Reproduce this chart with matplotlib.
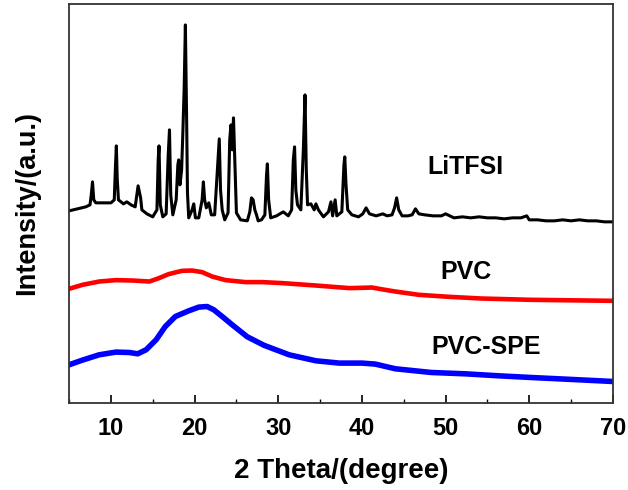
import matplotlib
matplotlib.use('Agg')
import matplotlib.pyplot as plt
from matplotlib.ticker import MultipleLocator

plt.rcParams['font.family'] = ['Liberation Sans', 'DejaVu Sans']

# === Daten (Intensitaet in willk. Einheiten) ===
litfsi_2theta = [5.0, 6.0, 7.0, 7.5, 7.65, 7.8, 7.95, 8.2, 9.0, 10.0, 10.4, 10.55, 10.65, 10.75, 10.9,
                 11.5, 11.9, 12.4, 12.9, 13.1, 13.25, 13.4, 13.55, 13.7, 14.3, 15.0, 15.5, 15.65, 15.75,
                 15.9, 16.2, 16.6, 16.85, 17.0, 17.15, 17.4, 17.8, 18.0, 18.1, 18.25, 18.45, 18.6, 18.75,
                 18.9, 19.05, 19.15, 19.3, 19.7, 19.9, 20.1, 20.5, 20.9, 21.05, 21.2, 21.4, 21.7, 22.0,
                 22.4, 22.8, 22.95, 23.1, 23.3, 23.6, 24.0, 24.2, 24.35, 24.5, 24.65, 24.8, 25.0, 25.5,
                 26.3, 26.6, 26.8, 27.0, 27.2, 27.4, 27.6, 28.0, 28.4, 28.6, 28.7, 28.85, 29.1, 29.8,
                 30.6, 31.2, 31.6, 31.8, 31.95, 32.1, 32.3, 32.7, 33.0, 33.2, 33.35, 33.5, 33.9, 34.3,
                 34.5, 34.8, 35.4, 36.0, 36.3, 36.5, 36.8, 37.0, 37.6, 37.85, 37.95, 38.1, 38.3, 38.8,
                 39.6, 40.1, 40.5, 40.9, 41.7, 42.5, 43.0, 43.6, 43.9, 44.15, 44.4, 44.8, 45.5, 46.0,
                 46.4, 46.8, 47.5, 48.5, 49.5, 50.0, 51.0, 52.0, 53.0, 54.0, 55.0, 56.0, 57.0, 58.0,
                 59.0, 59.7, 60.0, 61.0, 62.0, 63.0, 64.0, 65.0, 66.0, 67.0, 68.0, 69.0, 70.0]
litfsi_int = [1920, 1940, 1960, 1980, 2080, 2210, 2030, 2000, 2000, 2000, 2030, 2380, 2570, 2250, 2030,
              1990, 2010, 1980, 1960, 2080, 2170, 2110, 2050, 1930, 1890, 1860, 1930, 2430, 2570,
              1980, 1860, 1890, 2480, 2730, 2080, 1880, 2030, 2380, 2430, 2180, 2330, 2710, 3130,
              3780, 2830, 2100, 1850, 1930, 1990, 1850, 1850, 2030, 2210, 2030, 1950, 2000, 1880,
              1880, 2430, 2640, 2130, 1930, 1830, 1900, 2630, 2780, 2530, 2850, 2430, 1900, 1830,
              1820, 1910, 2050, 2030, 1930, 1880, 1820, 1830, 1880, 2280, 2390, 2030, 1850, 1870,
              1910, 1870, 1930, 2430, 2560, 2130, 1980, 1930, 2530, 3080, 2330, 1980, 1990, 1930,
              1990, 1930, 1860, 1910, 2010, 1870, 2030, 1870, 1910, 2380, 2460, 2180, 1930, 1880,
              1860, 1890, 1950, 1890, 1870, 1890, 1870, 1880, 1950, 2050, 1930, 1870, 1870, 1880,
              1940, 1890, 1880, 1870, 1870, 1890, 1850, 1860, 1850, 1860, 1850, 1850, 1840, 1850,
              1850, 1870, 1830, 1830, 1820, 1820, 1830, 1820, 1830, 1820, 1820, 1810, 1810]

pvc_2theta = [5.0, 6.6, 8.6, 10.6, 12.6, 14.6, 15.75, 16.9, 18.5, 19.7, 20.9, 22.1, 23.7, 26.1,
              28.1, 30.5, 34.5, 38.5, 40.0, 41.2, 42.4, 44.0, 46.8, 50.4, 54.3, 60.2, 65.0, 70.0]
pvc_int = [1140, 1180, 1213, 1227, 1223, 1213, 1247, 1287, 1320, 1323, 1307, 1263, 1227, 1207,
           1207, 1197, 1173, 1147, 1150, 1153, 1135, 1113, 1080, 1060, 1043, 1030, 1025, 1020]

spe_2theta = [5.0, 6.6, 8.6, 10.6, 12.2, 13.2, 14.2, 15.4, 16.5, 17.7, 19.3, 20.5, 21.5, 22.3,
              23.3, 24.5, 26.3, 28.3, 31.3, 34.5, 37.3, 40.0, 41.6, 44.0, 48.3, 52.3, 56.3, 60.2,
              64.2, 70.0]
spe_int = [380, 427, 480, 507, 503, 490, 530, 630, 763, 863, 920, 957, 963, 930,
           863, 780, 660, 575, 480, 420, 397, 397, 387, 340, 303, 290, 270, 253,
           237, 213]
# ======================

fig = plt.figure(figsize=(6.28, 4.90), dpi=100)
ax = fig.add_axes([0.110, 0.178, 0.866, 0.814])

ax.plot(litfsi_2theta, litfsi_int, color='black', lw=2.2)
ax.plot(pvc_2theta, pvc_int, color='red', lw=3.3)
ax.plot(spe_2theta, spe_int, color='blue', lw=4.0)

ax.text(52.4, 2360, 'LiTFSI', fontsize=18, fontweight='bold', ha='center', va='center')
ax.text(52.4, 1310, 'PVC', fontsize=18, fontweight='bold', ha='center', va='center')
ax.text(54.9, 560, 'PVC-SPE', fontsize=18, fontweight='bold', ha='center', va='center')

ax.set_xlim(5, 70)
ax.set_ylim(0, 3990)
ax.xaxis.set_major_locator(MultipleLocator(10))
ax.xaxis.set_minor_locator(MultipleLocator(5))
ax.tick_params(axis='x', which='major', direction='in', length=6, width=1.2, labelsize=17, pad=10)
ax.tick_params(axis='x', which='minor', direction='in', length=3, width=1.0)
ax.set_yticks([])
for lab in ax.get_xticklabels():
    lab.set_fontweight('bold')
for s in ax.spines.values():
    s.set_linewidth(1.3)
    s.set_color('#333333')

ax.set_xlabel('2 Theta/(degree)', fontsize=20, fontweight='bold', labelpad=13)
ax.set_ylabel('Intensity/(a.u.)', fontsize=19.5, fontweight='bold', labelpad=21)

fig.savefig('out.png', dpi=100)
